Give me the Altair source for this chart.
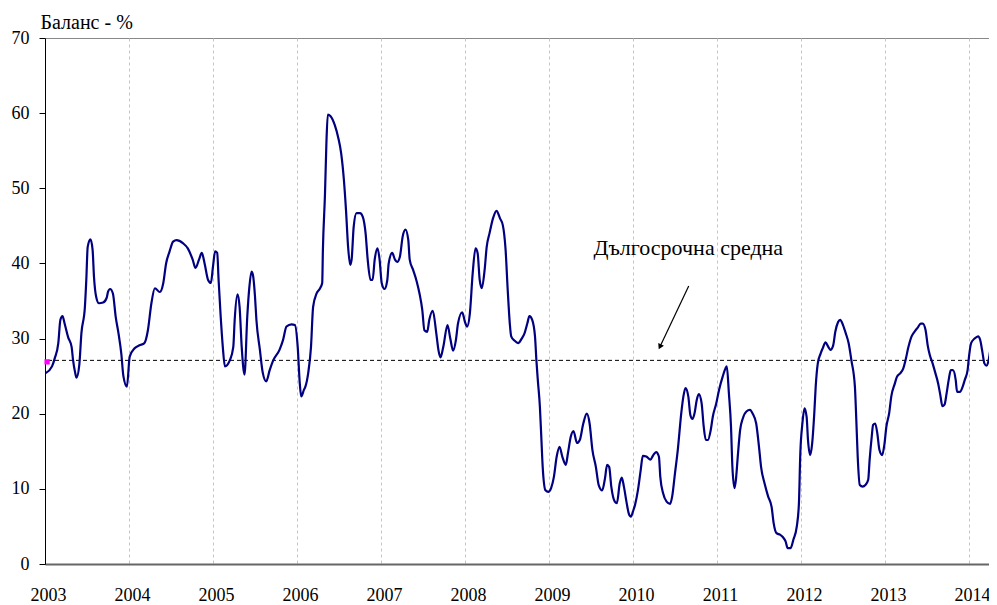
import altair as alt
import pandas as pd

# months since January 2003
months = [0.1,1.0,1.4,1.9,2.2,2.5,2.8,3.3,3.8,4.0,4.3,4.5,4.9,5.2,5.7,5.9,6.1,6.5,6.8,7.0,
          7.3,7.7,8.3,8.8,9.0,9.3,9.7,10.1,10.5,10.9,11.2,11.7,12.1,12.8,13.5,14.2,14.7,15.2,15.7,16.4,
          16.9,17.3,17.8,18.3,18.8,19.7,20.4,21.1,21.5,22.0,22.4,22.8,23.3,23.7,24.0,24.3,24.6,24.8,25.1,25.4,
          25.7,26.4,26.9,27.1,27.5,27.8,28.1,28.5,28.9,29.2,29.5,29.7,30.0,30.2,30.7,31.1,31.6,32.1,32.6,33.5,
          34.0,34.5,35.2,35.7,36.1,36.4,36.6,37.0,37.2,37.6,38.0,38.3,38.8,39.3,39.6,39.7,40.0,40.2,40.4,40.8,
          41.4,41.9,42.3,42.7,43.0,43.3,43.6,43.8,44.1,44.5,45.0,45.4,45.8,46.1,46.5,46.8,47.1,47.5,47.8,48.1,
          48.5,48.9,49.1,49.6,50.0,50.3,50.7,51.1,51.5,51.9,52.1,52.6,53.1,53.5,53.9,54.2,54.6,54.9,55.4,55.9,
          56.2,56.5,56.9,57.5,57.9,58.3,58.7,59.0,59.6,60.0,60.3,60.7,61.1,61.5,61.8,62.1,62.4,62.8,63.1,63.5,
          64.0,64.5,65.0,65.4,65.8,66.1,66.4,66.6,67.1,67.6,68.1,68.5,68.9,69.2,69.6,70.0,70.2,70.4,70.7,70.9,
          71.1,71.5,71.9,72.3,72.7,73.1,73.5,73.9,74.4,74.7,75.1,75.5,76.0,76.4,76.9,77.4,77.8,78.2,78.7,79.1,
          79.6,80.0,80.3,80.6,80.9,81.4,81.7,82.1,82.4,82.7,83.1,83.4,83.7,84.0,84.3,84.7,85.1,85.4,85.9,86.5,
          86.9,87.3,87.7,87.9,88.3,88.8,89.3,89.6,90.0,90.4,90.9,91.2,91.5,91.9,92.2,92.5,92.8,93.1,93.4,93.8,
          94.1,94.4,94.7,95.1,95.4,95.9,96.3,96.8,97.2,97.4,97.7,98.0,98.2,98.5,98.7,99.0,99.3,99.7,100.2,100.7,
          101.1,101.6,102.0,102.3,102.8,103.3,103.8,104.1,104.5,105.0,105.4,105.8,106.1,106.5,106.9,107.4,107.7,107.9,108.2,108.5,
          108.8,109.0,109.3,109.6,109.9,110.1,110.4,110.8,111.1,111.5,111.9,112.2,112.6,112.9,113.3,113.6,114.0,114.4,114.8,115.2,
          115.7,115.9,116.1,116.4,116.8,117.2,117.6,117.8,118.1,118.3,118.6,118.9,119.2,119.6,119.9,120.2,120.6,120.9,121.4,121.7,
          122.2,122.6,123.0,123.3,123.8,124.2,124.7,125.1,125.4,125.8,126.1,126.4,126.8,127.2,127.6,127.9,128.2,128.5,128.8,129.1,
          129.4,129.7,130.1,130.3,130.7,131.1,131.4,131.8,132.0,132.3,132.8,133.3,133.6,133.9,134.2,134.5,134.8,135.1,135.4,135.7,
          135.9]

balance = [25.4,26.3,27.4,29.4,32.5,33.0,32.0,30.2,28.9,27.2,25.5,24.8,26.5,30.7,34.2,37.8,42.2,43.2,41.8,38.2,
           35.6,34.7,34.8,35.4,36.2,36.6,36.0,32.9,30.7,28.0,25.0,23.6,27.6,28.7,29.1,29.4,31.1,34.7,36.7,36.2,
           37.4,40.0,41.6,42.9,43.1,42.7,42.0,40.5,39.4,40.5,41.4,40.0,37.8,37.4,39.6,41.6,41.4,37.8,32.9,28.9,
           26.3,27.1,28.9,32.5,35.9,34.2,28.9,25.2,33.0,36.9,38.9,38.5,35.6,32.5,28.5,25.5,24.3,25.8,27.1,28.5,
           29.8,31.6,31.9,31.8,28.9,24.0,22.3,23.2,23.6,25.4,28.9,34.2,36.0,36.7,37.4,41.8,49.3,56.0,59.8,59.6,
           58.4,56.7,54.7,51.1,47.1,42.2,39.8,40.5,44.9,46.7,46.7,46.2,44.0,40.5,37.8,37.8,40.5,42.0,40.5,37.4,
           36.6,37.8,40.0,41.4,40.5,40.2,40.9,43.6,44.5,43.1,40.5,39.1,37.6,36.0,33.8,31.1,30.9,32.5,33.7,30.7,
           28.5,27.5,28.9,31.8,30.0,28.4,29.8,32.0,33.5,32.2,31.6,33.4,38.7,42.0,41.4,37.8,36.7,39.1,42.2,44.0,
           46.0,47.0,46.0,45.1,41.8,36.5,32.0,30.3,29.7,29.4,30.0,30.7,32.0,33.0,32.5,30.3,27.1,24.5,20.9,16.9,
           12.9,9.8,9.6,10.1,11.6,14.3,15.6,14.3,13.2,14.7,16.9,17.7,16.1,16.5,18.7,20.0,18.7,15.2,12.9,10.5,
           9.8,11.4,13.2,12.9,10.3,8.3,8.1,10.7,11.5,10.3,8.1,6.7,6.3,7.0,7.9,9.8,12.5,14.4,14.3,13.9,
           14.5,14.9,14.3,11.6,9.4,8.3,8.0,9.0,12.1,15.2,20.1,22.3,23.4,22.3,19.8,19.3,20.1,21.8,22.6,21.4,
           18.3,16.5,16.5,17.8,19.6,21.4,23.2,24.9,26.0,26.3,22.7,18.3,12.9,10.1,11.2,14.7,17.8,19.4,20.3,20.5,
           20.0,18.7,15.6,12.9,10.7,9.0,7.6,5.4,4.1,3.9,3.6,3.0,2.1,2.1,3.2,5.0,8.0,14.7,18.7,20.7,
           19.6,16.5,14.5,16.1,20.1,23.6,26.7,28.0,28.7,29.5,28.9,28.5,29.1,30.9,32.2,32.5,31.8,30.7,29.4,27.1,
           23.6,19.2,14.3,10.5,10.3,10.5,11.2,13.8,16.9,18.5,18.7,17.4,15.2,14.5,15.8,18.3,20.1,22.3,24.0,24.9,
           25.4,26.0,27.4,28.7,30.3,30.9,31.5,32.0,32.0,31.1,29.1,27.8,26.7,25.4,24.0,22.5,21.0,21.2,22.7,24.5,
           25.8,25.8,24.5,22.9,22.9,23.6,24.5,25.8,27.6,29.4,30.0,30.3,29.8,28.3,26.7,26.4,27.1,28.9,31.1,34.2,
           36.9]

long_term_average = [27.1]
marker_month = [0.3]
marker_value = [26.9]
year_tick_months = list(range(0, 133, 12))
note_text = ["Дългосрочна средна"]
note_pos = [91.9, 41.1]          # month, value of the label
arrow_from = [91.96, 37.0]       # month, value
arrow_to = [87.9, 29.0]

assert len(months) == len(balance)

FONT = "Liberation Serif"
df = pd.DataFrame({"month": months, "balance": balance})

x_scale = alt.Scale(domain=[0, 136], nice=False, zero=False)
y_scale = alt.Scale(domain=[0, 70], nice=False)

x_axis = alt.Axis(
    values=year_tick_months, labelExpr="format(2003 + datum.value / 12, 'd')",
    grid=True, gridDash=[3, 3], gridColor="#c4c4c4", gridWidth=1,
    ticks=False, domainColor="#666666", domainWidth=2,
    labelFont=FONT, labelFontSize=18, labelColor="black", labelPadding=36,
    labelBaseline="alphabetic", labelFlush=False, labelOverlap=False, labelOffset=3,
    title=None,
)
y_axis = alt.Axis(
    values=list(range(0, 71, 10)), grid=False,
    domainColor="black", domainWidth=1, tickColor="black", tickSize=6,
    labelFont=FONT, labelFontSize=18, labelColor="black", labelPadding=10,
    title="Баланс - %", titleAngle=0, titleAlign="left", titleBaseline="alphabetic",
    titleX=-5, titleY=-10, titleFont=FONT, titleFontSize=20, titleFontWeight="normal",
    titleColor="black",
)

base = alt.Chart(df)

line = base.mark_line(color="#000080", strokeWidth=2.2, interpolate="monotone").encode(
    x=alt.X("month:Q", scale=x_scale, axis=x_axis),
    y=alt.Y("balance:Q", scale=y_scale, axis=y_axis),
)

avg = alt.Chart(pd.DataFrame({"v": long_term_average})).mark_rule(
    color="black", strokeWidth=1, strokeDash=[4, 3]
).encode(y=alt.Y("v:Q", scale=y_scale))

marker = alt.Chart(pd.DataFrame({"m": marker_month, "v": marker_value})).mark_square(
    color="#ff00ff", size=28, opacity=1
).encode(x=alt.X("m:Q", scale=x_scale), y=alt.Y("v:Q", scale=y_scale))

arrow_df = pd.DataFrame({"x1": [arrow_from[0]], "y1": [arrow_from[1]],
                         "x2": [arrow_to[0]], "y2": [arrow_to[1]]})
arrow = alt.Chart(arrow_df).mark_rule(color="black", strokeWidth=1.2).encode(
    x=alt.X("x1:Q", scale=x_scale), y=alt.Y("y1:Q", scale=y_scale),
    x2="x2:Q", y2="y2:Q",
)
head = alt.Chart(pd.DataFrame({"x": [arrow_to[0]], "y": [arrow_to[1]]})).mark_point(
    shape="triangle", filled=True, color="black", size=40, angle=206, opacity=1
).encode(x=alt.X("x:Q", scale=x_scale), y=alt.Y("y:Q", scale=y_scale))

note = alt.Chart(pd.DataFrame({"x": [note_pos[0]], "y": [note_pos[1]], "t": note_text})).mark_text(
    font=FONT, fontSize=22, color="black", align="center", baseline="alphabetic"
).encode(x=alt.X("x:Q", scale=x_scale), y=alt.Y("y:Q", scale=y_scale), text="t:N")

chart = alt.layer(avg, line, marker, arrow, head, note).properties(
    width=952, height=526,
    autosize=alt.AutoSizeParams(type="none"),
    padding={"left": 37, "top": 30, "right": -8, "bottom": 46},
    background="white",
).configure_view(stroke="#888888", strokeWidth=1)

chart.save("out.html", embed_options={"renderer": "svg", "actions": False})
